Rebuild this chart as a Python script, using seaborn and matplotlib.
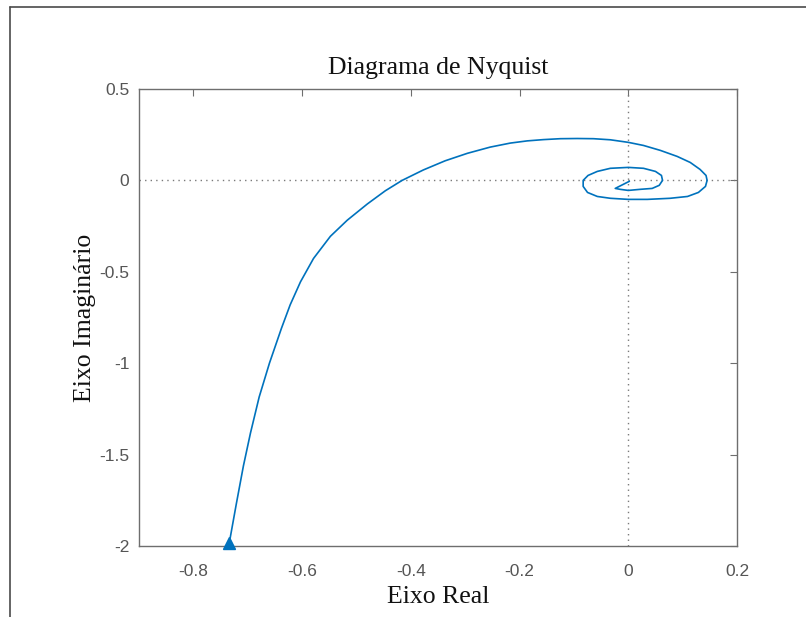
import numpy as np
import pandas as pd
import matplotlib
matplotlib.use("Agg")
import matplotlib.pyplot as plt
from matplotlib.lines import Line2D
import seaborn as sns

# Nyquist curve samples (real, imaginary), from low to high frequency
real_part = [
    -0.735, -0.721, -0.708, -0.695, -0.679, -0.660, -0.638, -0.622, -0.603,
    -0.579, -0.548, -0.517, -0.480, -0.447, -0.416, -0.377, -0.337, -0.296,
    -0.254, -0.217, -0.186, -0.156, -0.125, -0.094, -0.064, -0.033, 0.000,
    0.028, 0.059, 0.090, 0.114, 0.132, 0.143, 0.145, 0.142, 0.129, 0.109,
    0.077, 0.035, 0.000, -0.033, -0.057, -0.075, -0.083, -0.083, -0.074,
    -0.057, -0.033, 0.000, 0.028, 0.050, 0.061, 0.063, 0.057, 0.044, 0.022,
    0.000, -0.015, -0.024, 0.002,
]
imag_part = [
    -2.000, -1.769, -1.562, -1.382, -1.185, -0.999, -0.809, -0.681, -0.555,
    -0.427, -0.306, -0.218, -0.129, -0.057, 0.000, 0.057, 0.107, 0.148,
    0.182, 0.204, 0.216, 0.223, 0.228, 0.229, 0.228, 0.222, 0.208, 0.191,
    0.164, 0.131, 0.098, 0.060, 0.027, 0.000, -0.033, -0.066, -0.088,
    -0.098, -0.104, -0.104, -0.098, -0.088, -0.066, -0.033, 0.000, 0.027,
    0.049, 0.066, 0.071, 0.066, 0.049, 0.027, 0.000, -0.027, -0.044, -0.049,
    -0.055, -0.049, -0.044, -0.005,
]

x_ticks = [-0.8, -0.6, -0.4, -0.2, 0, 0.2]
x_tick_labels = ["-0.8", "-0.6", "-0.4", "-0.2", "0", "0.2"]
y_ticks = [-2, -1.5, -1, -0.5, 0, 0.5]
y_tick_labels = ["-2", "-1.5", "-1", "-0.5", "0", "0.5"]

sns.set_theme(style="white")
plt.rcParams["axes.unicode_minus"] = False
plt.rcParams["font.family"] = ["Liberation Sans", "DejaVu Sans"]

line_color = "#0072BD"
axis_color = "#6e6e6e"
label_color = "#555555"

df = pd.DataFrame({"Real": real_part, "Imag": imag_part})

fig = plt.figure(figsize=(8.06, 6.17), dpi=100)
ax = fig.add_axes([0.1725, 0.1151, 0.7419, 0.7407])

# Dotted reference axes through the origin
ax.axhline(0, color="#7a7a7a", lw=1.0, ls=(0, (1, 3)), zorder=1)
ax.axvline(0, color="#7a7a7a", lw=1.0, ls=(0, (1, 3)), zorder=1)

sns.lineplot(data=df, x="Real", y="Imag", sort=False, estimator=None,
             color=line_color, lw=1.2, ax=ax, zorder=3)
ax.plot(real_part[0], imag_part[0] + 0.015, marker="^", ms=9,
        color=line_color, mec=line_color, clip_on=False, zorder=4)

ax.set_xlim(-0.9, 0.2)
ax.set_ylim(-2, 0.5)
ax.set_xticks(x_ticks)
ax.set_xticklabels(x_tick_labels)
ax.set_yticks(y_ticks)
ax.set_yticklabels(y_tick_labels)

ax.tick_params(direction="in", length=5, width=0.8, color=axis_color,
               labelcolor=label_color, labelsize=12.5, top=True, right=True)
ax.tick_params(axis="x", pad=13)
ax.tick_params(axis="y", pad=7)
for s in ax.spines.values():
    s.set_color(axis_color)
    s.set_linewidth(1.0)

serif = ["Liberation Serif", "DejaVu Serif"]
ax.set_title("Diagrama de Nyquist", family=serif, fontsize=18.5,
             color="#111111", pad=11)
ax.set_xlabel("Eixo Real", family=serif, fontsize=18.5, color="#111111",
              labelpad=5)
ax.set_ylabel("Eixo Imaginário", family=serif, fontsize=18.5, color="#111111",
              labelpad=2)

# Window frame on the left and top edges
fig.add_artist(Line2D([0.0124, 0.0124], [0.0, 0.9887], transform=fig.transFigure,
                      color="#4a4a4a", lw=1.2))
fig.add_artist(Line2D([0.0124, 1.0], [0.9887, 0.9887], transform=fig.transFigure,
                      color="#4a4a4a", lw=1.2))

fig.savefig("out.png", dpi=100)
